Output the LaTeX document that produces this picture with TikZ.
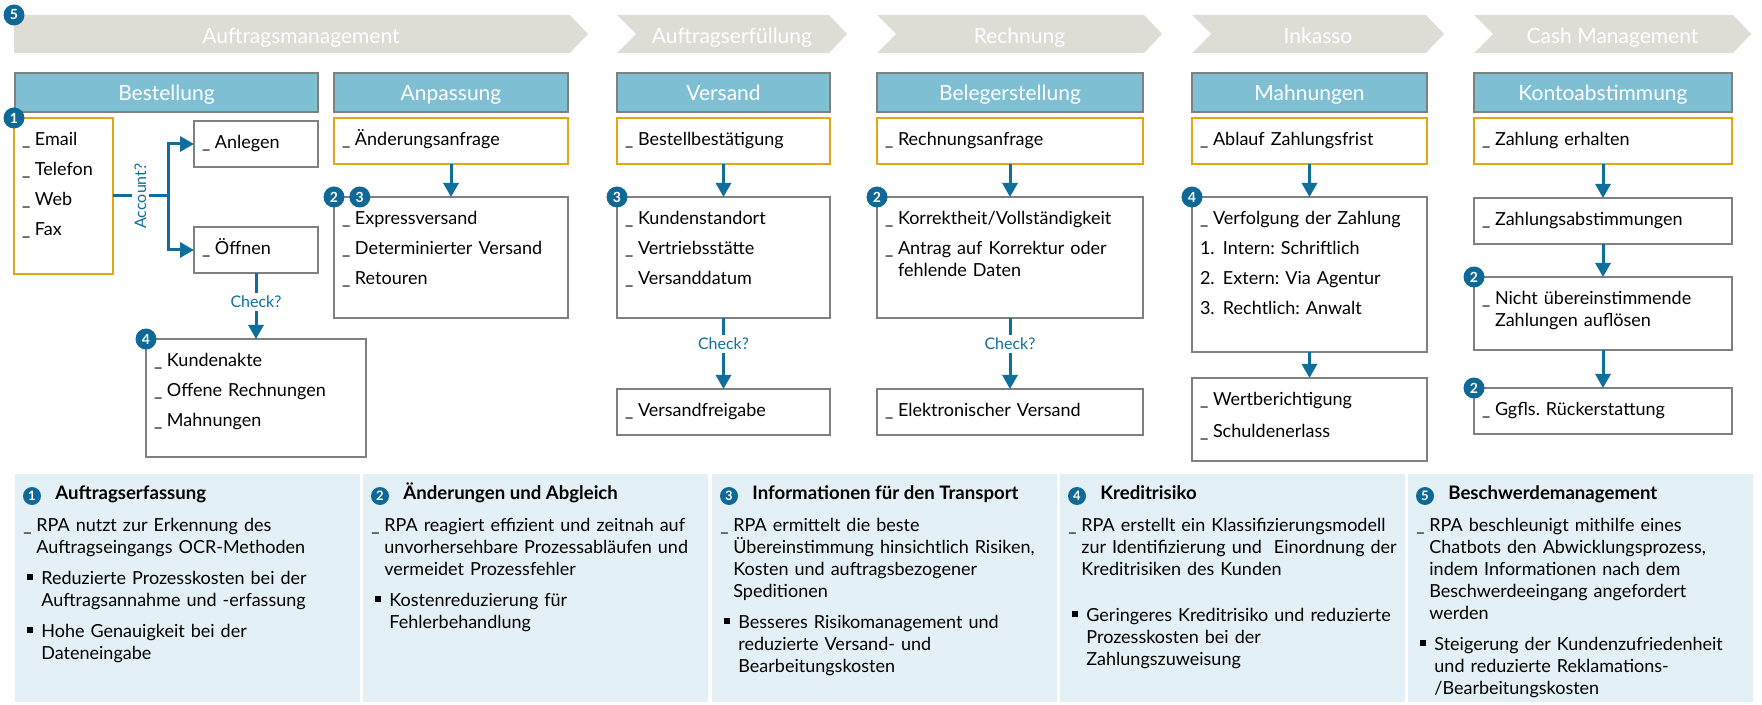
\documentclass[tikz,border=0pt]{standalone}
\usepackage{fontspec}
\setmainfont{Lato}
\usetikzlibrary{arrows.meta}
\usetikzlibrary{positioning}
\frenchspacing

\definecolor{phasegray}{HTML}{DDDCD5}
\definecolor{hdrblue}{HTML}{7EBFD3}
\definecolor{boxgray}{HTML}{808080}
\definecolor{trigyellow}{HTML}{E3A70F}
\definecolor{flowblue}{HTML}{106E9C}
\definecolor{markblue}{HTML}{0F6895}
\definecolor{panelblue}{HTML}{E3F0F5}

\tikzstyle{phase} = [text=white, inner sep=0pt, text height=7.6pt, text depth=0pt,
  font=\fontsize{10.5}{12}\selectfont]
\tikzstyle{hdr} = [rectangle, fill=hdrblue, draw=boxgray, line width=1pt, outer sep=0pt,
  anchor=north west, minimum height=19.5pt, inner sep=0pt, text=white,
  text height=7.6pt, text depth=0pt, font=\fontsize{10.5}{12}\selectfont]
\tikzstyle{task} = [rectangle, fill=white, draw=boxgray, line width=1pt, outer sep=0pt,
  anchor=north west, align=left, inner xsep=4pt, inner ysep=6.8pt,
  text height=7pt, text depth=2.4pt, font=\fontsize{9}{11}\selectfont]
\tikzstyle{trigger} = [task, draw=trigyellow, line width=1.3pt]
\tikzstyle{marker} = [circle, fill=markblue, text=white, inner sep=0pt,
  minimum size=10.5pt, font=\fontsize{7}{7}\selectfont\bfseries]
\tikzstyle{pmark} = [marker, minimum size=9pt, font=\fontsize{6.5}{7}\selectfont\bfseries]
\tikzstyle{flow} = [draw=flowblue, line width=1.5pt]
\tikzstyle{ask} = [fill=white, text=flowblue, inner sep=1.5pt, font=\fontsize{8}{9}\selectfont]
\tikzstyle{panel} = [rectangle, fill=panelblue, anchor=north west, inner sep=0pt,
  minimum width=172.5pt, minimum height=114pt]
\tikzstyle{ptitle} = [anchor=base west, inner sep=0pt, font=\fontsize{9.3}{11}\selectfont\bfseries]
\tikzstyle{ptext} = [anchor=base west, align=left, text width=180pt, inner xsep=4pt,
  inner ysep=0pt, font=\fontsize{9}{11}\selectfont]
\tikzset{>={Triangle[width=7.5pt,length=7pt]}}

\newcommand{\uscore}{\makebox[6.5pt][l]{\_}}
\newcommand{\uind}{\hspace*{6.5pt}}
\newcommand{\bullt}{\makebox[9pt][l]{\hspace*{2pt}\rule[2pt]{3pt}{3pt}}}
\newcommand{\bulind}{\hspace*{9pt}}
\newcommand{\phasebar}[5]{% name, left, right, notch, text
  \fill[phasegray] (#2,15) -- (#3,15) -- (#3+18,34) -- (#3,53) -- (#2,53) -- (#2+#4,34) -- cycle;
  \node[phase] (#1) at ({(#2+#3+18)/2},36) {#5};
}
\newcommand{\flowlink}[2]{\draw[flow,->] (#1.south) -- (#2.north);}

\begin{document}
\begin{tikzpicture}[x=0.5pt,y=-0.5pt]
  \useasboundingbox (0,0) rectangle (1762,705);

  % phases
  \phasebar{ph1}{14}{570}{0}{Auftragsmanagement}
  \phasebar{ph2}{617}{829}{19}{Auftragserfüllung}
  \phasebar{ph3}{877}{1144}{19}{Rechnung}
  \phasebar{ph4}{1192}{1426}{19}{Inkasso}
  \phasebar{ph5}{1474}{1733}{19}{Cash Management}
  \node[marker] (m5) at (14,15) {5};

  % headers
  \node[hdr, minimum width=151.5pt] (hBest) at (15,73) {Bestellung};
  \node[hdr, minimum width=117pt] (hAnp) at (334,73) {Anpassung};
  \node[hdr, minimum width=106.5pt] (hVers) at (617,73) {Versand};
  \node[hdr, minimum width=133pt] (hBeleg) at (877,73) {Belegerstellung};
  \node[hdr, minimum width=117.5pt] (hMahn) at (1192,73) {Mahnungen};
  \node[hdr, minimum width=129pt] (hKonto) at (1474,73) {Kontoabstimmung};

  % Bestellung / Anpassung
  \node[trigger, text width=41.5pt, text depth=57.4pt] (order) at (14,118)
    {\uscore Email\\[4pt]\uscore Telefon\\[4pt]\uscore Web\\[4pt]\uscore Fax};
  \node[task, text width=54pt] (anlegen) at (194,121) {\uscore Anlegen};
  \node[task, text width=54pt] (oeffnen) at (194,227) {\uscore Öffnen};
  \node[task, text width=102pt, text depth=38.4pt] (akte) at (146,339)
    {\uscore Kundenakte\\[4pt]\uscore Offene Rechnungen\\[4pt]\uscore Mahnungen};
  \node[trigger, text width=109pt] (aend) at (334,118) {\uscore Änderungsanfrage};
  \node[task, text width=109pt, text depth=39.9pt] (express) at (334,197)
    {\uscore Expressversand\\[4pt]\uscore Determinierter Versand\\[4pt]\uscore Retouren};

  % Versand
  \node[trigger, text width=98.5pt] (bestaet) at (617,118) {\uscore Bestellbestätigung};
  \node[task, text width=98.5pt, text depth=39.9pt] (standort) at (617,197)
    {\uscore Kundenstandort\\[4pt]\uscore Vertriebsstätte\\[4pt]\uscore Versanddatum};
  \node[task, text width=98.5pt] (freigabe) at (617,389) {\uscore Versandfreigabe};

  % Belegerstellung
  \node[trigger, text width=125pt] (anfrage) at (877,118) {\uscore Rechnungsanfrage};
  \node[task, text width=125pt, text depth=39.9pt] (korrekt) at (877,197)
    {\uscore Korrektheit/Vollständigkeit\\[4pt]\uscore Antrag auf Korrektur oder\\\uind fehlende Daten};
  \node[task, text width=125pt] (elektro) at (877,389) {\uscore Elektronischer Versand};

  % Mahnungen
  \node[trigger, text width=109.5pt] (frist) at (1192,118) {\uscore Ablauf Zahlungsfrist};
  \node[task, text width=109.5pt, text depth=56.9pt] (verfolg) at (1192,197)
    {\uscore Verfolgung der Zahlung\\[4pt]\makebox[11.5pt][l]{1.}Intern: Schriftlich\\[4pt]%
     \makebox[11.5pt][l]{2.}Extern: Via Agentur\\[4pt]\makebox[11.5pt][l]{3.}Rechtlich: Anwalt};
  \node[task, text width=109.5pt, text depth=20.9pt] (wert) at (1192,378)
    {\uscore Wertberichtigung\\[5pt]\uscore Schuldenerlass};

  % Kontoabstimmung
  \node[trigger, text width=121pt] (erhalten) at (1474,118) {\uscore Zahlung erhalten};
  \node[task, text width=121pt] (abstimm) at (1474,198) {\uscore Zahlungsabstimmungen};
  \node[task, text width=121pt, text depth=15.9pt] (nicht) at (1474,277)
    {\uscore Nicht übereinstimmende\\\uind Zahlungen auflösen};
  \node[task, text width=121pt] (rueck) at (1474,388) {\uscore Ggfls. Rückerstattung};

  \node[marker] (m1) at (order.north west) {1};
  \node[marker] (m4a) at (akte.north west) {4};
  \node[marker] (m2a) at (express.north west) {2};
  \node[marker, right=2pt of m2a] (m3a) {3};
  \node[marker] (m3b) at (standort.north west) {3};
  \node[marker] (m2b) at (korrekt.north west) {2};
  \node[marker] (m4b) at (verfolg.north west) {4};
  \node[marker] (m2c) at (nicht.north west) {2};
  \node[marker] (m2d) at (rueck.north west) {2};

  % flows
  \coordinate[right=27.5pt of order.east] (split);
  \draw[flow] (order.east) -- node[ask, rotate=90] (acc) {Account?} (split);
  \draw[flow,->] (split) |- (anlegen.west);
  \draw[flow,->] (split) |- (oeffnen.west);
  \draw[flow,->] (oeffnen.south) -- node[ask, pos=0.44] (chk1) {Check?} (akte.north);
  \flowlink{aend}{express}
  \flowlink{bestaet}{standort}
  \draw[flow,->] (standort.south) -- node[ask, pos=0.36] (chk2) {Check?} (freigabe.north);
  \flowlink{anfrage}{korrekt}
  \draw[flow,->] (korrekt.south) -- node[ask, pos=0.36] (chk3) {Check?} (elektro.north);
  \flowlink{frist}{verfolg}
  \flowlink{verfolg}{wert}
  \flowlink{erhalten}{abstimm}
  \flowlink{abstimm}{nicht}
  \flowlink{nicht}{rueck}

  % benefits
  \foreach \i/\x/\t in {1/15/Auftragserfassung, 2/363/Änderungen und Abgleich,
      3/712/Informationen für den Transport, 4/1060/Kreditrisiko, 5/1408/Beschwerdemanagement} {
    \node[panel] (p\i) at (\x,474) {};
    \node[pmark] (pm\i) at (\x+17,496) {\i};
    \node[ptitle] (pt\i) at (\x+40,500) {\t};
  }
  \node[ptext] (b1) at (15,531)
    {\uscore RPA nutzt zur Erkennung des\\\uind Auftragseingangs OCR-Methoden\\[4.5pt]
     \bullt Reduzierte Prozesskosten bei der\\\bulind Auftragsannahme und -erfassung\\[4.5pt]
     \bullt Hohe Genauigkeit bei der\\\bulind Dateneingabe};
  \node[ptext] (b2) at (363,531)
    {\uscore RPA reagiert effizient und zeitnah auf\\\uind unvorhersehbare Prozessabläufen und\\\uind vermeidet Prozessfehler\\[4.5pt]
     \bullt Kostenreduzierung für\\\bulind Fehlerbehandlung};
  \node[ptext] (b3) at (712,531)
    {\uscore RPA ermittelt die beste\\\uind Übereinstimmung hinsichtlich Risiken,\\\uind Kosten und auftragsbezogener\\\uind Speditionen\\[4.5pt]
     \bullt Besseres Risikomanagement und\\\bulind reduzierte Versand- und\\\bulind Bearbeitungskosten};
  \node[ptext] (b4) at (1060,531)
    {\uscore RPA erstellt ein Klassifizierungsmodell\\\uind zur Identifizierung und\ \ Einordnung der\\\uind Kreditrisiken des Kunden\\[12pt]
     \bullt Geringeres Kreditrisiko und reduzierte\\\bulind Prozesskosten bei der\\\bulind Zahlungszuweisung};
  \node[ptext] (b5) at (1408,531)
    {\uscore RPA beschleunigt mithilfe eines\\\uind Chatbots den Abwicklungsprozess,\\\uind indem Informationen nach dem\\\uind Beschwerdeeingang angefordert\\\uind werden\\[4.5pt]
     \bullt Steigerung der Kundenzufriedenheit\\\bulind und reduzierte Reklamations-\\\bulind /Bearbeitungskosten};
\end{tikzpicture}
\end{document}
